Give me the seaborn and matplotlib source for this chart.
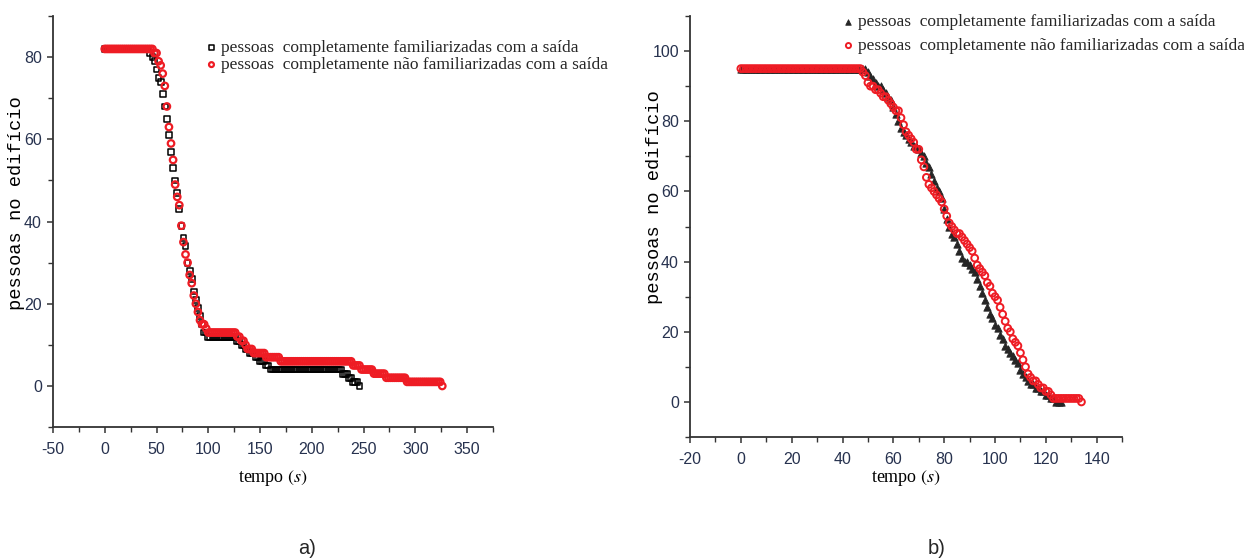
import matplotlib
matplotlib.use("Agg")
import matplotlib.pyplot as plt
from matplotlib.ticker import MultipleLocator
import seaborn as sns

# ---------------- data ----------------
# panel a) time grid (s) and people remaining in the building
tempo_a = [0, 2, 4, 6, 8, 10, 12, 14, 16, 18, 20, 22, 24, 26, 28, 30, 32, 34, 36, 38,
           40, 42, 44, 46, 48, 50, 52, 54, 56, 58, 60, 62, 64, 66, 68, 70, 72, 74, 76, 78,
           80, 82, 84, 86, 88, 90, 92, 94, 96, 98, 100, 102, 104, 106, 108, 110, 112, 114,
           116, 118, 120, 122, 124, 126, 128, 130, 132, 134, 136, 138, 140, 142, 144, 146,
           148, 150, 152, 154, 156, 158, 160, 162, 164, 166, 168, 170, 172, 174, 176, 178,
           180, 182, 184, 186, 188, 190, 192, 194, 196, 198, 200, 202, 204, 206, 208, 210,
           212, 214, 216, 218, 220, 222, 224, 226, 228, 230, 232, 234, 236, 238, 240, 242,
           244, 246, 248, 250, 252, 254, 256, 258, 260, 262, 264, 266, 268, 270, 272, 274,
           276, 278, 280, 282, 284, 286, 288, 290, 292, 294, 296, 298, 300, 302, 304, 306,
           308, 310, 312, 314, 316, 318, 320, 322, 324, 326]

fam_a = ([82] * 22 +
         [81, 80, 79, 77, 75, 74, 71, 68, 65, 61, 57, 53, 50, 47, 43, 39, 36, 34, 30, 28,
          26, 23, 21, 19, 17, 15, 13, 13] +
         [12] * 14 +
         [11, 11, 10, 10, 9, 9, 8, 8, 8, 7, 7, 6, 6, 6, 5, 5] +
         [4] * 35 +
         [3, 3, 3, 2, 2, 1, 1, 1, 0])

naofam_a = ([82] * 24 +
            [81, 81, 79, 78, 76, 73, 68, 63, 59, 55, 49, 46, 44, 39, 35, 32, 30, 27, 25, 22,
             20, 18, 16, 15, 15, 14] +
            [13] * 14 +
            [12, 12, 11, 11, 10, 9, 9, 9, 8, 8, 8, 8, 8, 8, 7, 7] +
            [7] * 5 + [6] * 35 + [5] * 4 + [4] * 6 + [3] * 6 + [2] * 10 + [1] * 17 + [0])

# panel b) time grid (s)
tempo_b = [0, 1, 2, 3, 4, 5, 6, 7, 8, 9, 10, 11, 12, 13, 14, 15, 16, 17, 18, 19, 20, 21,
           22, 23, 24, 25, 26, 27, 28, 29, 30, 31, 32, 33, 34, 35, 36, 37, 38, 39, 40, 41,
           42, 43, 44, 45, 46, 47, 48, 49, 50, 51, 52, 53, 54, 55, 56, 57, 58, 59, 60, 61,
           62, 63, 64, 65, 66, 67, 68, 69, 70, 71, 72, 73, 74, 75, 76, 77, 78, 79, 80, 81,
           82, 83, 84, 85, 86, 87, 88, 89, 90, 91, 92, 93, 94, 95, 96, 97, 98, 99, 100, 101,
           102, 103, 104, 105, 106, 107, 108, 109, 110, 111, 112, 113, 114, 115, 116, 117,
           118, 119, 120, 121, 122, 123, 124, 125, 126, 127, 128, 129, 130, 131, 132, 133, 134]

fam_b = ([95] * 49 +
         [95, 94, 93, 92, 91, 90, 90, 89, 88, 87, 86, 84, 82, 80, 78, 77, 76, 75, 74, 73,
          73, 72, 71, 70, 68, 67, 65, 63, 61, 60, 58, 55, 52, 50, 48, 47, 45, 43, 41, 40,
          40, 39, 38, 37, 35, 33, 31, 29, 27, 25, 24, 22, 21, 19, 18, 16, 15, 14, 13, 12,
          11, 9, 8, 7, 6, 5, 5, 4, 4, 3, 3, 2, 2, 1, 1, 0, 0, 0])

naofam_b = ([95] * 47 +
            [95, 94, 93, 91, 90, 90, 89, 89, 88, 87, 87, 86, 85, 84, 83, 83, 81, 79, 77, 76,
             75, 74, 72, 72, 69, 67, 64, 62, 61, 60, 59, 58, 57, 55, 53, 51, 50, 49, 48, 48,
             47, 46, 45, 44, 43, 41, 39, 38, 37, 36, 34, 33, 31, 30, 29, 27, 25, 23, 21, 20,
             18, 17, 16, 14, 12, 10, 8, 7, 6, 6, 5, 4, 4, 3, 3, 2] +
            [1] * 11 + [0])

label_fam = "pessoas  completamente familiarizadas com a saída"
label_nao = "pessoas  completamente não familiarizadas com a saída"
y_label = "pessoas no edifício"
x_label = r"tempo $(s)$"

# ---------------- style ----------------
sns.set_style("ticks")
plt.rcParams["mathtext.fontset"] = "stix"
plt.rcParams["axes.unicode_minus"] = False
plt.rcParams["font.family"] = ["Liberation Sans Narrow", "Liberation Sans", "DejaVu Sans"]

TICK_COLOR = "#27324f"
SPINE = "#333333"
RED = "#ee1c24"
DARK = "#262626"

fig = plt.figure(figsize=(12.44, 5.59), dpi=100)
ax_a = fig.add_axes([0.0426, 0.236, 0.3537, 0.7353])
ax_b = fig.add_axes([0.5547, 0.2182, 0.3473, 0.7532])

# panel a
sns.scatterplot(x=tempo_a[:len(fam_a)], y=fam_a, ax=ax_a, marker="s", s=17,
                facecolors="none", edgecolors="black", linewidths=1.1,
                label=label_fam, zorder=2)
sns.scatterplot(x=tempo_a, y=naofam_a, ax=ax_a, marker="o", s=22,
                facecolors="none", edgecolors=RED, linewidths=1.6,
                label=label_nao, zorder=3)

# panel b
sns.scatterplot(x=tempo_b[:len(fam_b)], y=fam_b, ax=ax_b, marker="^", s=28,
                color=DARK, edgecolors=DARK, linewidths=0.6,
                label=label_fam, zorder=2)
sns.scatterplot(x=tempo_b, y=naofam_b, ax=ax_b, marker="o", s=24,
                facecolors="none", edgecolors=RED, linewidths=1.4,
                label=label_nao, zorder=3)

def style_axis(ax, xlim, ylim, xmaj, xmin, ymaj, ymin):
    ax.set_xlim(*xlim)
    ax.set_ylim(*ylim)
    ax.xaxis.set_major_locator(MultipleLocator(xmaj))
    ax.xaxis.set_minor_locator(MultipleLocator(xmin))
    ax.yaxis.set_major_locator(MultipleLocator(ymaj))
    ax.yaxis.set_minor_locator(MultipleLocator(ymin))
    ax.set_yticks([t for t in ax.get_yticks() if 0 <= t <= ylim[1] - 1])
    for side in ("top", "right"):
        ax.spines[side].set_visible(False)
    for side in ("left", "bottom"):
        ax.spines[side].set_color(SPINE)
        ax.spines[side].set_linewidth(1.3)
    ax.tick_params(axis="both", which="major", direction="out", length=4.5, width=1.1,
                   color=SPINE, labelcolor=TICK_COLOR, labelsize=11.5)
    ax.tick_params(axis="both", which="minor", direction="out", length=3.5, width=1.0,
                   color=SPINE)
    ax.tick_params(axis="x", which="major", pad=6.5)
    ax.tick_params(axis="y", which="major", pad=3.5)

style_axis(ax_a, (-50, 375), (-10, 90), 50, 25, 20, 10)
style_axis(ax_b, (-20, 150), (-10, 110), 20, 10, 20, 10)

for ax, ylc, xlc in ((ax_a, (-0.084, 0.545), (0.5, -0.124)),
                     (ax_b, (-0.083, 0.57), (0.5, -0.097))):
    ax.set_ylabel(y_label, family=["Liberation Mono", "DejaVu Sans Mono"], fontsize=13.5,
                  color="black", va="center", ha="center")
    ax.yaxis.set_label_coords(*ylc)
    ax.set_xlabel(x_label, family=["Liberation Serif", "DejaVu Serif"], fontsize=13,
                  color="black", va="center", ha="center")
    ax.xaxis.set_label_coords(*xlc)

# legends
leg_kw = dict(frameon=False, borderpad=0, handlelength=0.4, handletextpad=0.35,
              borderaxespad=0, markerscale=0.75,
              prop={"family": ["Liberation Serif", "DejaVu Serif"], "size": 12.5})
ax_a.legend(loc="upper left", bbox_to_anchor=(208 / 1244, 1 - 40 / 559),
            bbox_transform=fig.transFigure, labelspacing=0.05, **leg_kw)
ax_b.legend(loc="upper left", bbox_to_anchor=(845 / 1244, 1 - 14 / 559),
            bbox_transform=fig.transFigure, labelspacing=0.45, **leg_kw)

fig.text(307 / 1244, 1 - 548 / 559, "a)", ha="center", va="center",
         family=["Liberation Sans", "DejaVu Sans"], fontsize=14.5)
fig.text(937 / 1244, 1 - 548 / 559, "b)", ha="center", va="center",
         family=["Liberation Sans", "DejaVu Sans"], fontsize=14.5)

fig.savefig("out.png", dpi=100)
